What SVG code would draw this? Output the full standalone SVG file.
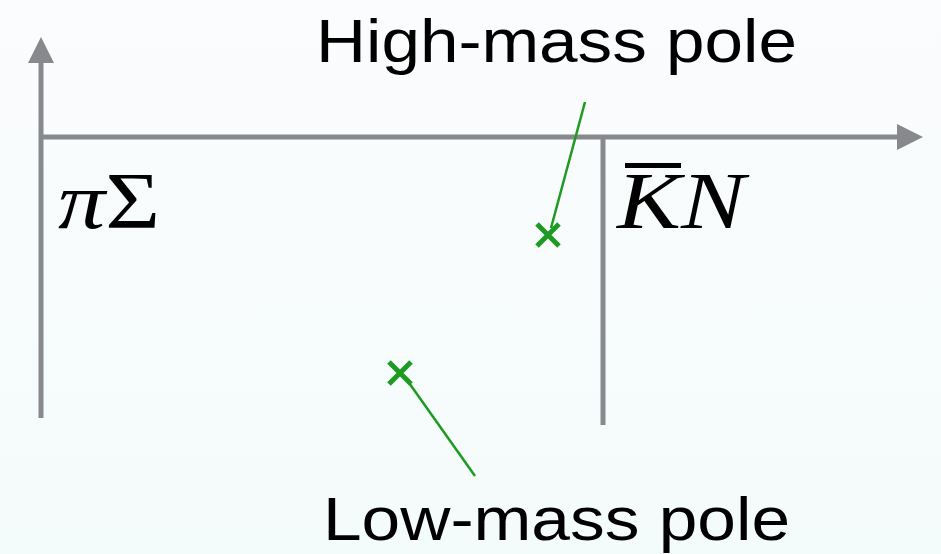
<svg xmlns="http://www.w3.org/2000/svg" width="941" height="554" viewBox="0 0 941 554">
<defs>
<linearGradient id="bg" x1="0" y1="0" x2="0" y2="1">
<stop offset="0" stop-color="#fbfcfd"/>
<stop offset="1" stop-color="#f4fbfb"/>
</linearGradient>
<marker id="arr" markerWidth="6" markerHeight="6" refX="1" refY="3" orient="auto" markerUnits="strokeWidth">
<path d="M0,0.4 L5.2,3 L0,5.6 Z" fill="#87898d"/>
</marker>
<style>
.axis{stroke:#87898d;stroke-width:5;fill:none}
.lead{stroke:#1e9a22;stroke-width:2.5;fill:none}
.pole{stroke:#1e9a22;stroke-width:5;fill:none}
.lbl{font-family:"Liberation Sans",Arial,sans-serif;font-size:61px;fill:#000}
.math{font-family:"Liberation Serif","Times New Roman",serif;font-size:80px;fill:#000}
</style>
</defs>
<rect width="941" height="554" fill="url(#bg)"/>
<g id="axes">
<line class="axis" x1="41" y1="418" x2="41" y2="58" marker-end="url(#arr)"/>
<line class="axis" x1="41" y1="137" x2="902" y2="137" marker-end="url(#arr)"/>
<line class="axis" x1="603" y1="137" x2="603" y2="425"/>
</g>
<g id="labels-channels">
<text class="math" x="58" y="228" textLength="102" lengthAdjust="spacingAndGlyphs"><tspan font-style="italic">π</tspan>Σ</text>
<g id="kbarN">
<rect x="625" y="163" width="56" height="5" fill="#000"/>
<text class="math" x="617" y="228" font-style="italic" textLength="128" lengthAdjust="spacingAndGlyphs">KN</text>
</g>
</g>
<g id="connectors">
<line class="lead" x1="585" y1="102" x2="551" y2="228"/>
<line class="lead" x1="407" y1="380" x2="475" y2="476"/>
</g>
<g id="high-pole">
<path class="pole" d="M537,224 L559,246 M559,224 L537,246"/>
<text class="lbl" x="316" y="62" textLength="481" lengthAdjust="spacingAndGlyphs">High-mass pole</text>
</g>
<g id="low-pole">
<path class="pole" d="M389,362 L411,384 M411,362 L389,384"/>
<text class="lbl" x="323" y="540" textLength="467" lengthAdjust="spacingAndGlyphs">Low-mass pole</text>
</g>
</svg>
